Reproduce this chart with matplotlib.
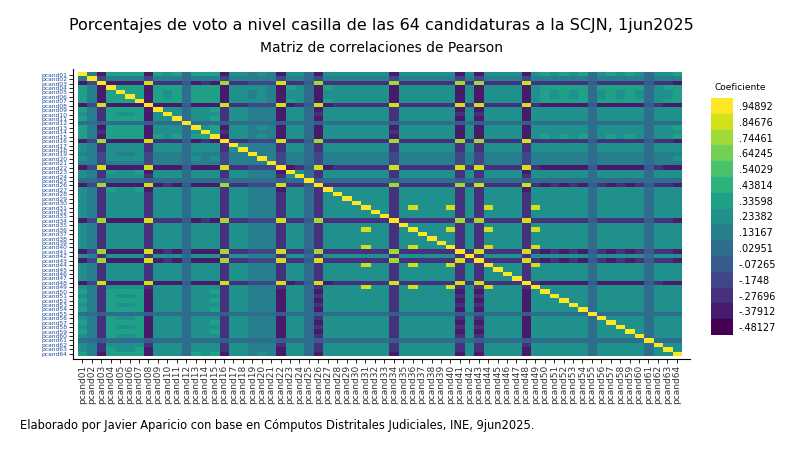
import numpy as np
import matplotlib
matplotlib.use("Agg")
import matplotlib.pyplot as plt
from matplotlib.colors import ListedColormap, BoundaryNorm

labels = [f"pcand{i:02d}" for i in range(1, 65)]
# general factor loading per candidate
general = [0.56, 0.30, -0.62, 0.58, 0.56, 0.55, 0.58, -0.66, 0.52, 0.50,
           0.52, 0.10, 0.54, 0.52, 0.56, -0.62, 0.48, 0.42, 0.32, 0.34,
           0.30, -0.66, 0.50, 0.48, 0.08, -0.64, 0.50, 0.48, 0.48, 0.48,
           0.44, 0.44, 0.48, -0.62, 0.48, 0.44, 0.48, 0.46, 0.48, 0.44,
           -0.64, 0.48, -0.64, 0.44, 0.48, 0.48, 0.48, -0.66, 0.44, 0.52,
           0.50, 0.52, 0.50, 0.52, 0.08, 0.50, 0.52, 0.50, 0.52, 0.50,
           0.12, 0.48, 0.50, 0.54]
# loading on factor shared by the negative cluster
cluster_neg = [0, 0, 0.62, 0, 0, 0, 0, 0.66, 0, 0,
               0, 0, 0, 0, 0, 0.60, 0, 0, 0, 0,
               0, 0.66, 0, 0, 0, 0.62, 0, 0, 0, 0,
               0, 0, 0, 0.60, 0, 0, 0, 0, 0, 0,
               0.62, 0, 0.64, 0, 0, 0, 0, 0.66, 0, 0,
               0, 0, 0, 0, 0, 0, 0, 0, 0, 0,
               0, 0, 0, 0]
# loading on factor shared by pcand31/36/40/44/49
cluster_pos = [0]*30 + [0.82] + [0]*4 + [0.80] + [0]*3 + [0.80] + [0]*3 + [0.80] + [0]*4 + [0.80] + [0]*15

ticks = [.94892, .84676, .74461, .64245, .54029, .43814, .33598, .23382,
         .13167, .02951, -.07265, -.1748, -.27696, -.37912, -.48127]
tick_txt = [".94892", ".84676", ".74461", ".64245", ".54029", ".43814", ".33598",
            ".23382", ".13167", ".02951", "-.07265", "-.1748", "-.27696", "-.37912", "-.48127"]

L = np.array([general, cluster_neg, cluster_pos]).T
R = L @ L.T
np.fill_diagonal(R, 1.0)
R = np.clip(R, -0.53, 1.0)

cols = plt.cm.viridis(np.linspace(0, 1, 15))
cmap = ListedColormap(cols)
step = ticks[0] - ticks[1]
bounds = [ticks[-1] - step / 2 - 0.1] + [t + step / 2 for t in ticks[::-1][:-1]] + [1.1]
norm = BoundaryNorm(bounds, 15)

fig = plt.figure(figsize=(7.98, 4.54), dpi=100)
fig.text(0.478, 0.935, "Porcentajes de voto a nivel casilla de las 64 candidaturas a la SCJN, 1jun2025",
         ha="center", fontsize=11.5)
fig.text(0.478, 0.885, "Matriz de correlaciones de Pearson", ha="center", fontsize=10)
fig.text(0.025, 0.055, "Elaborado por Javier Aparicio con base en Cómputos Distritales Judiciales, INE, 9jun2025.",
         fontsize=8.3)

ax = fig.add_axes([73/798, 1-359/454, 617/798, 290/454])
ax.imshow(R, cmap=cmap, norm=norm, aspect="auto", interpolation="nearest")
ax.set_xticks(range(64))
ax.set_xticklabels(labels, rotation=90, fontsize=6.5, color="#333333")
ax.set_yticks(range(64))
ax.set_yticklabels(labels, fontsize=4.3, color="#1f4e9a")
ax.tick_params(length=3, width=0.6, pad=1)
for s in ["top", "right"]:
    ax.spines[s].set_visible(False)
ax.set_xlim(-1.0, 64.4)
ax.set_ylim(64.2, -1.3)

cax = fig.add_axes([711/798, 1-335/454, 22/798, 237/454])
for k in range(15):
    cax.add_patch(plt.Rectangle((0, 14 - k), 1, 1, color=cols[14 - k]))
cax.set_xlim(0, 1)
cax.set_ylim(0, 15)
cax.set_xticks([])
cax.set_yticks([14.5 - k for k in range(15)])
cax.set_yticklabels(tick_txt, fontsize=7)
cax.yaxis.tick_right()
cax.tick_params(length=0, pad=4)
for s in cax.spines.values():
    s.set_visible(False)
fig.text(740/798, 1-90/454, "Coeficiente", ha="center", fontsize=6.5)

fig.savefig("out.png", dpi=100)
